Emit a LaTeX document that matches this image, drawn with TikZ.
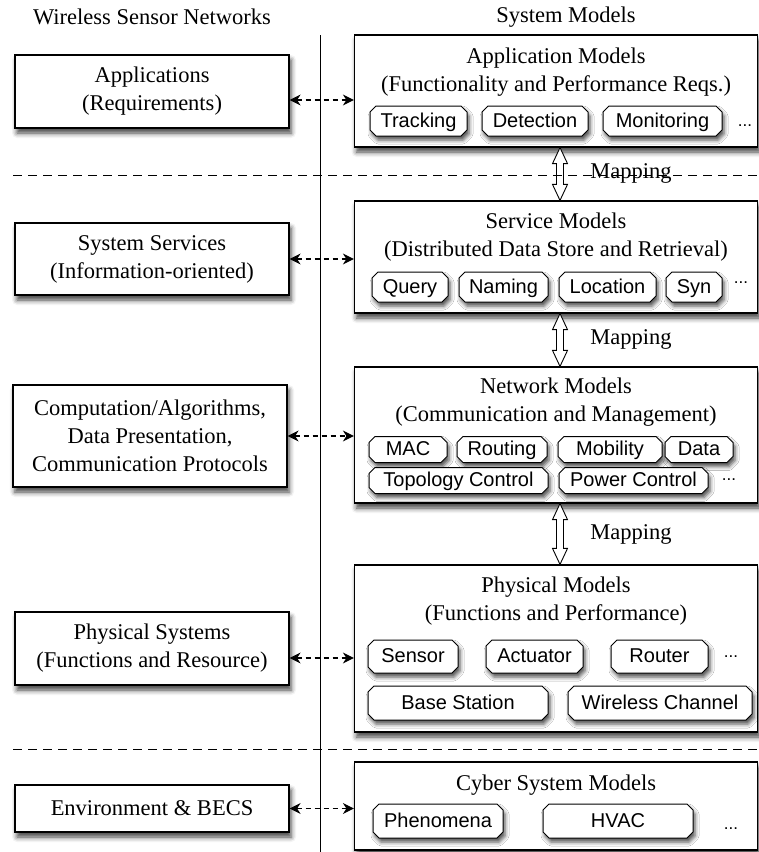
\documentclass[tikz,border=0pt]{standalone}
\usepackage{fontspec}
\setmainfont{Liberation Serif}
\newfontfamily\pillfont{Liberation Sans}
\usetikzlibrary{shapes.misc,arrows.meta,calc,shadows.blur}

% hollow two-headed arrow between two stacked model boxes
\newcommand{\mapArrow}[2]{%
  \draw[line width=0.9pt, fill=white, line join=miter]
    let \p1=($(#1.south)+(4,0)$), \p2=($(#2.north)+(4,0)$) in
    (\x1,\y1) -- (\x1+7.5pt,\y1-16pt) -- (\x1+3.5pt,\y1-16pt)
    -- (\x1+3.5pt,\y2+16pt) -- (\x1+7.5pt,\y2+16pt) -- (\x1,\y2)
    -- (\x1-7.5pt,\y2+16pt) -- (\x1-3.5pt,\y2+16pt)
    -- (\x1-3.5pt,\y1-16pt) -- (\x1-7.5pt,\y1-16pt) -- cycle;}

\tikzset{
  serifbig/.style={font=\fontsize{22.5}{28}\selectfont},
  header/.style={serifbig},
  softshadow/.style={blur shadow={shadow xshift=2pt, shadow yshift=-5pt,
      shadow blur radius=5pt, shadow opacity=75}},
  wsnbox/.style={draw, line width=1.2pt, fill=white, softshadow,
      minimum width=274pt, inner sep=0pt, align=center, serifbig},
  modelbox/.style={draw, line width=1.2pt, fill=white, softshadow,
      minimum width=403pt, inner sep=0pt},
  title/.style={serifbig, align=center, inner sep=0pt},
  pill/.style={draw, line width=1pt, fill=white, line join=round,
      chamfered rectangle, chamfered rectangle angle=45,
      chamfered rectangle xsep=3pt, chamfered rectangle ysep=3pt,
      inner sep=0pt, text height=16pt, text depth=4pt,
      font=\pillfont\fontsize{20}{22}\selectfont,
      blur shadow={shadow xshift=2pt, shadow yshift=-4pt,
      shadow blur radius=4pt, shadow opacity=70}},
  moredots/.style={font=\pillfont\fontsize{17}{20}\selectfont, inner sep=0pt},
  maplabel/.style={serifbig, inner sep=0pt},
  dlink/.style={line width=1.1pt, dash pattern=on 5pt off 4pt,
      {Stealth[length=11pt,width=11pt,inset=3.5pt]}-{Stealth[length=11pt,width=11pt,inset=3.5pt]}},
  tierline/.style={line width=1pt, dash pattern=on 9pt off 6pt},
}

\begin{document}
\begin{tikzpicture}[x=1pt,y=-1pt]
\useasboundingbox (0,0) rectangle (759,852);

% column headers
\node[header] (hwsn) at (152,17) {Wireless Sensor Networks};
\node[header] (hsys) at (566,17) {System Models};

% separating axis
\coordinate (axtop) at (320,35);
\coordinate (axbot) at (320,852);
\draw[line width=1pt] (axtop) -- (axbot);

% left column: WSN view
\node[wsnbox, minimum height=73pt]  (wapp) at (152,91.5) {Applications\\(Requirements)};
\node[wsnbox, minimum height=72pt]  (wsvc) at (152,259) {System Services\\(Information-oriented)};
\node[wsnbox, minimum height=102pt] (wcmp) at (150,436) {Computation/Algorithms,\\Data Presentation,\\Communication Protocols};
\node[wsnbox, minimum height=73pt]  (wphy) at (152,648.5) {Physical Systems\\(Functions and Resource)};
\node[wsnbox, minimum height=47pt]  (wenv) at (152,808.5) {Environment \& BECS};

% right column: model boxes
\node[modelbox, minimum height=112pt] (mapp) at (556,91) {};
\node[modelbox, minimum height=112pt] (msvc) at (556,257) {};
\node[modelbox, minimum height=136pt] (mnet) at (556,435) {};
\node[modelbox, minimum height=167pt] (mphy) at (556,648.5) {};
\node[modelbox, minimum height=88pt]  (mcyb) at (556,806) {};

\node[title] (tapp) at (556,72.5) {Application Models\\(Functionality and Performance Reqs.)};
\node[title] (tsvc) at (556,237.5) {Service Models\\(Distributed Data Store and Retrieval)};
\node[title] (tnet) at (556,402.5) {Network Models\\(Communication and Management)};
\node[title] (tphy) at (556,601.5) {Physical Models\\(Functions and Performance)};
\node[title] (tcyb) at (556,785) {Cyber System Models};

% application models
\node[pill, minimum width=97pt,  minimum height=30pt] (pTrack) at (418.5,121) {Tracking};
\node[pill, minimum width=106pt, minimum height=30pt] (pDetec) at (535,121) {Detection};
\node[pill, minimum width=119pt, minimum height=30pt] (pMonit) at (662.5,121) {Monitoring};
\node[moredots] (dApp) at (745,126) {...};

% service models
\node[pill, minimum width=76pt, minimum height=30pt] (pQuery) at (410,287) {Query};
\node[pill, minimum width=89pt, minimum height=30pt] (pNamin) at (503.5,287) {Naming};
\node[pill, minimum width=97pt, minimum height=30pt] (pLocat) at (607.5,287) {Location};
\node[pill, minimum width=56pt, minimum height=30pt] (pSyn)   at (694,287) {Syn};
\node[moredots] (dSvc) at (741,283) {...};

% network models
\node[pill, minimum width=78pt,  minimum height=25pt] (pMAC)  at (408,449.5) {MAC};
\node[pill, minimum width=90pt,  minimum height=25pt] (pRout) at (502,449.5) {Routing};
\node[pill, minimum width=104pt, minimum height=25pt] (pMobi) at (610,449.5) {Mobility};
\node[pill, minimum width=68pt,  minimum height=25pt] (pData) at (699,449.5) {Data};
\node[pill, minimum width=179pt, minimum height=25pt] (pTopo) at (458.5,480.5) {Topology Control};
\node[pill, minimum width=149pt, minimum height=25pt] (pPowr) at (633.5,480.5) {Power Control};
\node[moredots] (dNet) at (729,480) {...};

% physical models
\node[pill, minimum width=90pt,  minimum height=33pt] (pSens) at (413,656.5) {Sensor};
\node[pill, minimum width=97pt,  minimum height=33pt] (pActu) at (534.5,656.5) {Actuator};
\node[pill, minimum width=97pt,  minimum height=33pt] (pRtr)  at (659.5,656.5) {Router};
\node[moredots] (dPhy) at (731,657) {...};
\node[pill, minimum width=180pt, minimum height=34pt] (pBase) at (458,703) {Base Station};
\node[pill, minimum width=184pt, minimum height=34pt] (pWirl) at (660,703) {Wireless Channel};

% cyber system models
\node[pill, minimum width=130pt, minimum height=34pt] (pPhen) at (438,821) {Phenomena};
\node[pill, minimum width=150pt, minimum height=34pt] (pHVAC) at (618,821) {HVAC};
\node[moredots] (dCyb) at (731,829) {...};

% correspondences between the two views
\draw[dlink] ([yshift=-8.5pt]wapp.east) -- ([yshift=-8.5pt]wapp.east -| mapp.west);
\draw[dlink] (wsvc.east) -- (wsvc.east -| msvc.west);
\draw[dlink] (wcmp.east) -- (wcmp.east -| mnet.west);
\draw[dlink] ([yshift=-9.5pt]wphy.east) -- ([yshift=-9.5pt]wphy.east -| mphy.west);
\draw[dlink] (wenv.east) -- (wenv.east -| mcyb.west);

% mappings between model layers
\mapArrow{mapp}{msvc}
\mapArrow{msvc}{mnet}
\mapArrow{mnet}{mphy}
\node[maplabel] (lmap1) at (631,173) {Mapping};
\node[maplabel] (lmap2) at (631,339) {Mapping};
\node[maplabel] (lmap3) at (631,534) {Mapping};

% tier boundaries
\coordinate (t1a) at (13,175);
\coordinate (t1b) at (759,175);
\coordinate (t2a) at (13,749);
\coordinate (t2b) at (759,749);
\draw[tierline] (t1a) -- (t1b);
\draw[tierline] (t2a) -- (t2b);
\end{tikzpicture}
\end{document}
